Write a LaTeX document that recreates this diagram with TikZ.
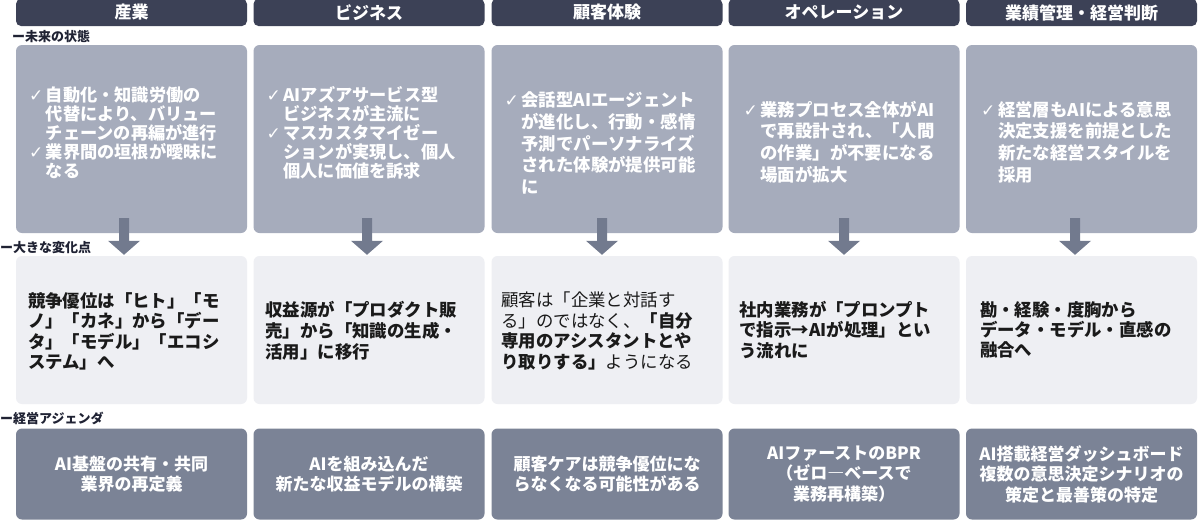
\documentclass[tikz,border=0pt]{standalone}
\usepackage{fontspec}
\setmainfont{Noto Sans CJK JP}
\newfontfamily\symfont{DejaVu Sans}
\usetikzlibrary{calc}
\definecolor{hdrc}{HTML}{3C4156}
\definecolor{futc}{HTML}{A6ACBC}
\definecolor{chgc}{HTML}{EEEFF3}
\definecolor{agdc}{HTML}{7B8396}
\definecolor{arrc}{HTML}{727A8E}
\definecolor{lblc}{HTML}{1F2233}
\definecolor{chgtext}{HTML}{1A1A1A}
\newcommand\chkm{\makebox[17pt][l]{\symfont\mdseries\fontsize{17}{16}\selectfont ✓}}
\newcommand\hind{\hspace*{17pt}}
\tikzset{
  hdr/.style={fill=hdrc, rounded corners=5pt, minimum width=231pt, minimum height=27pt, text=white, font=\bfseries\fontsize{17}{19}\selectfont, inner sep=0pt},
  fut/.style={fill=futc, rounded corners=6pt, minimum width=231pt, minimum height=188pt, inner xsep=13pt, text width=205pt, align=left, text=white, font=\bfseries\fontsize{17.2}{19}\selectfont},
  futwide/.style={font=\bfseries\fontsize{17.4}{21.7}\selectfont},
  chg/.style={fill=chgc, rounded corners=6pt, minimum width=231pt, minimum height=148pt, inner xsep=12pt, text width=207pt, align=left, text=chgtext, font=\bfseries\fontsize{17.4}{20.3}\selectfont},
  agd/.style={fill=agdc, rounded corners=6pt, minimum width=231pt, minimum height=91pt, inner xsep=4pt, text width=223pt, align=center, text=white, font=\bfseries\fontsize{17}{20.5}\selectfont},
  lbl/.style={anchor=west, font=\bfseries\fontsize{13}{15}\selectfont, text=lblc, inner sep=0pt},
  arr/.style={fill=arrc},
}
\begin{document}
\begin{tikzpicture}[x=1pt,y=-1pt]
\useasboundingbox (0,0) rectangle (1200,520);
\fill[white] (0,0) rectangle (1200,520);
% headers
\node[hdr] (h1) at (131.5,12.5) {産業};
\node[hdr] (h2) at (369,12.5) {ビジネス};
\node[hdr] (h3) at (607,12.5) {顧客体験};
\node[hdr] (h4) at (844,12.5) {オペレーション};
\node[hdr] (h5) at (1081.5,12.5) {業績管理・経営判断};
% labels
\node[lbl] (l1) at (12,37) {ー未来の状態};
\node[lbl] (l2) at (0,248) {ー大きな変化点};
\node[lbl] (l3) at (0,418) {ー経営アジェンダ};
% future state boxes
\node[fut] (f1) at (131.5,139) {};
\node[fut] (f2) at (369,139) {};
\node[fut] (f3) at (607,139) {};
\node[fut] (f4) at (844,139) {};
\node[fut] (f5) at (1081.5,139) {};
% future state texts
\node[fut,fill=none,minimum height=0pt,inner ysep=0pt] (ft1) at (131.5,133) {\chkm 自動化・知識労働の\\\hind 代替により、バリュー\\\hind チェーンの再編が進行\\\chkm 業界間の垣根が曖昧に\\\hind なる};
\node[fut,fill=none,minimum height=0pt,inner ysep=0pt] (ft2) at (369,133) {\chkm AIアズアサービス型\\\hind ビジネスが主流に\\\chkm マスカスタマイゼー\\\hind ションが実現し、個人\\\hind 個人に価値を訴求};
\node[fut,futwide,fill=none,minimum height=0pt,inner ysep=0pt] (ft3) at (607,143) {\chkm 会話型AIエージェント\\\hind が進化し、行動・感情\\\hind 予測でパーソナライズ\\\hind された体験が提供可能\\\hind に};
\node[fut,futwide,fill=none,minimum height=0pt,inner ysep=0pt,inner xsep=15pt,text width=201pt] (ft4) at (844,142) {\chkm 業務プロセス全体がAI\\\hind で再設計され、「人間\\\hind の作業」が不要になる\\\hind 場面が拡大};
\node[fut,futwide,fill=none,minimum height=0pt,inner ysep=0pt,inner xsep=15pt,text width=201pt] (ft5) at (1081.5,142) {\chkm 経営層もAIによる意思\\\hind 決定支援を前提とした\\\hind 新たな経営スタイルを\\\hind 採用};
% change points
\node[chg] (c1) at (131.5,330) {};
\node[chg] (c2) at (369,330) {};
\node[chg] (c3) at (607,330) {};
\node[chg] (c4) at (844,330) {};
\node[chg] (c5) at (1081.5,330) {};
\node[chg,fill=none,minimum height=0pt] (ct1) at (131.5,331.5) {競争優位は「ヒト」「モ\\ノ」「カネ」から「デー\\タ」「モデル」「エコシ\\ステム」へ};
\node[chg,fill=none,minimum height=0pt,font=\bfseries\fontsize{17.4}{20.8}\selectfont] (ct2) at (369,331) {収益源が「プロダクト販\\売」から「知識の生成・\\活用」に移行};
\node[chg,fill=none,minimum height=0pt,font=\mdseries\fontsize{17.4}{20.5}\selectfont,inner xsep=10pt,text width=211pt] (ct3) at (607,331) {顧客は「企業と対話す\\る」のではなく、{\bfseries「自分}\\{\bfseries 専用のアシスタントとや}\\{\bfseries り取りする」}ようになる};
\node[chg,fill=none,minimum height=0pt,inner xsep=11pt,text width=209pt] (ct4) at (844,330) {社内業務が「プロンプト\\で指示→AIが処理」とい\\う流れに};
\node[chg,fill=none,minimum height=0pt,inner xsep=14pt,text width=203pt] (ct5) at (1081.5,330) {勘・経験・度胸から\\データ・モデル・直感の\\融合へ};
% agenda
\node[agd] (a1) at (131.5,474) {AI基盤の共有・共同\\業界の再定義};
\node[agd] (a2) at (369,474) {AIを組み込んだ\\新たな収益モデルの構築};
\node[agd] (a3) at (607,474) {顧客ケアは競争優位にな\\らなくなる可能性がある};
\node[agd] (a4) at (844,474) {AIファーストのBPR\\（ゼロ―ベースで\\業務再構築）};
\node[agd] (a5) at (1081.5,474) {AI搭載経営ダッシュボード\\複数の意思決定シナリオの\\策定と最善策の特定};
% arrows from future state to change point
\foreach \i/\dx in {1/-7.5,2/-2,3/-5,4/0,5/-6.5}{
  \path let \p1=(f\i.south), \p2=(c\i.north) in
    coordinate (s\i) at (\x1+\dx,\y1+15)
    coordinate (t\i) at (\x1+\dx,\y2+1);
  \fill[arr] ($(s\i)+(-5,0)$) -- ($(s\i)+(5,0)$) -- ($(t\i)+(5,-14)$) -- ($(t\i)+(16,-14)$) -- (t\i) -- ($(t\i)+(-16,-14)$) -- ($(t\i)+(-5,-14)$) -- cycle;
}
\end{tikzpicture}
\end{document}
